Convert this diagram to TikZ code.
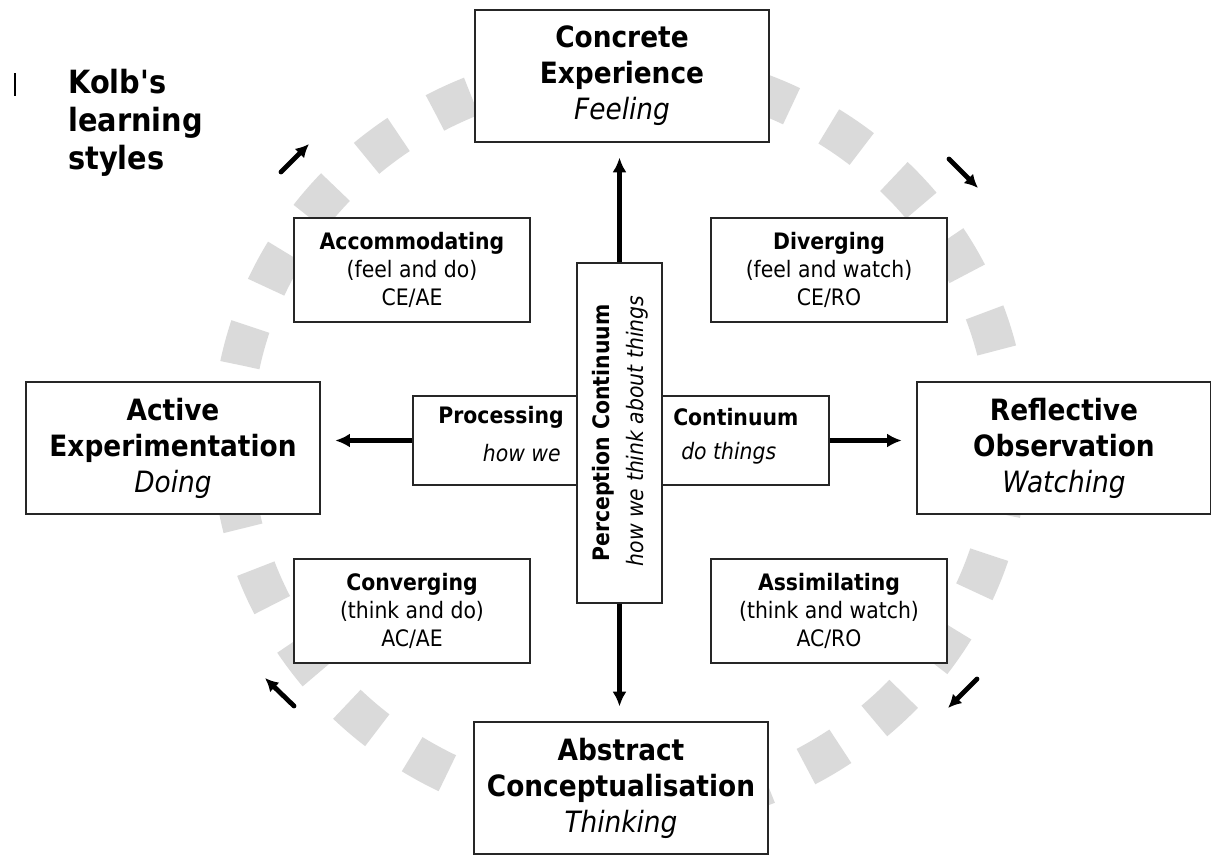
\documentclass[tikz,border=0pt]{standalone}
\usepackage{fontspec}
\setmainfont{DejaVuSansCondensed}[Extension=.ttf,UprightFont=*,BoldFont=*-Bold,ItalicFont=*-Oblique,BoldItalicFont=*-BoldOblique]
\usetikzlibrary{arrows.meta}
\definecolor{ringgray}{RGB}{218,218,218}
\newcommand{\bigfont}{\fontsize{22}{27}\selectfont}
\newcommand{\boxfont}{\fontsize{17}{21}\selectfont}
\newcommand{\titlefont}{\fontsize{24}{28.5}\selectfont\bfseries}

\begin{document}
\begin{tikzpicture}[x=0.75pt,y=-0.75pt,
    ring/.style={draw=ringgray,line width=30pt,dash pattern=on 30pt off 31.76pt,dash phase=55.67pt},
    bigbox/.style={draw=black!85,fill=white,line width=1.4pt,minimum width=220pt,minimum height=99pt,align=center,font=\bigfont,inner sep=0pt},
    stylebox/.style={draw=black!85,fill=white,line width=1.4pt,minimum width=176.5pt,minimum height=78pt,align=center,font=\boxfont,inner sep=0pt},
    contbox/.style={draw=black!85,fill=white,line width=1.4pt,inner sep=0pt},
    lbl/.style={inner sep=0pt,font=\boxfont},
    bigarrow/.style={line width=3.6pt,-{Latex[length=11pt,width=10.5pt]},shorten >=11pt},
    cyclearrow/.style={line width=3.6pt,line cap=round,-{Latex[length=10pt,width=10pt]}}]
  \useasboundingbox (0,0) rectangle (1211,857);
  \draw[ring] (620,440) ellipse [x radius=291pt,y radius=279pt];

  \node[bigbox] (conc) at (622,76) {\textbf{Concrete}\\\textbf{Experience}\\\textit{Feeling}};
  \node[bigbox] (abst) at (621,788) {\textbf{Abstract}\\\textbf{Conceptualisation}\\\textit{Thinking}};
  \node[bigbox] (actv) at (173,448) {\textbf{Active}\\\textbf{Experimentation}\\\textit{Doing}};
  \node[bigbox] (refl) at (1064,448) {\textbf{Reflective}\\\textbf{Observation}\\\textit{Watching}};

  \node[stylebox] (acco) at (412,270) {\textbf{Accommodating}\\(feel and do)\\CE/AE};
  \node[stylebox] (dive) at (829,270) {\textbf{Diverging}\\(feel and watch)\\CE/RO};
  \node[stylebox] (conv) at (412,611) {\textbf{Converging}\\(think and do)\\AC/AE};
  \node[stylebox] (assi) at (829,611) {\textbf{Assimilating}\\(think and watch)\\AC/RO};

  \node[contbox,minimum width=123pt,minimum height=66.75pt] (proc) at (495,440.5) {};
  \node[contbox,minimum width=125.25pt,minimum height=66.75pt] (cont) at (745.5,440.5) {};
  \node[contbox,minimum width=63.75pt,minimum height=255pt] (perc) at (619.5,433) {};

  \node[lbl,font=\boxfont\bfseries,anchor=east] (procA) at (564,417) {Processing};
  \node[lbl,font=\boxfont\itshape,anchor=east] (procB) at (561,453) {how we};
  \node[lbl,font=\boxfont\bfseries,anchor=west] (contA) at (673,417) {Continuum};
  \node[lbl,font=\boxfont\itshape,anchor=west] (contB) at (681,453) {do things};
  \node[lbl,font=\boxfont\bfseries,rotate=90] (percA) at (603,433) {Perception Continuum};
  \node[lbl,font=\boxfont\itshape,rotate=90] (percB) at (637,431) {how we think about things};

  \draw[bigarrow] (perc.north) -- (perc.north |- conc.south);
  \draw[bigarrow] (perc.south) -- (perc.south |- abst.north);
  \draw[bigarrow] (proc.west) -- (proc.west -| actv.east);
  \draw[bigarrow] (cont.east) -- (cont.east -| refl.west);

  \draw[cyclearrow] (281,172) -- (309,144);
  \draw[cyclearrow] (949,159) -- (978,188);
  \draw[cyclearrow] (977,679) -- (948,708);
  \draw[cyclearrow] (294,706) -- (265,678);

  \node[font=\titlefont,align=left,anchor=north west,inner sep=0pt] (title) at (68,69) {Kolb\textquotesingle s\\learning\\styles};
  \draw[line width=1.2pt] (15,73) -- (15,96);
\end{tikzpicture}
\end{document}
